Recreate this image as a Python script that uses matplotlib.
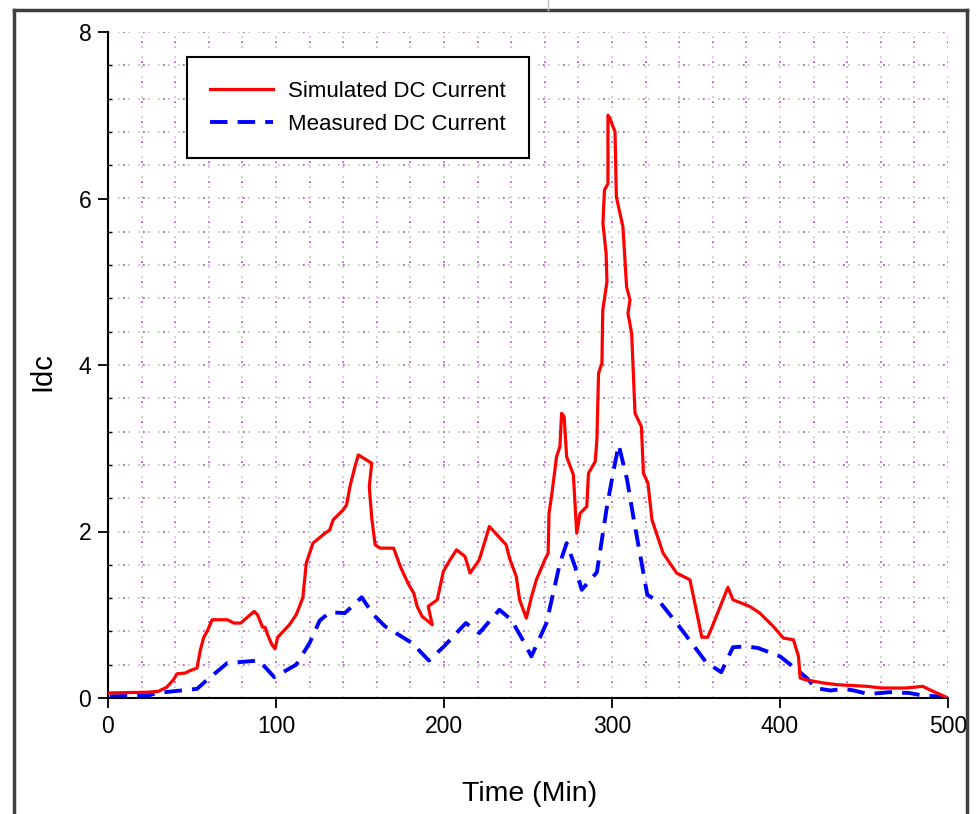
import numpy as np
import matplotlib
matplotlib.use("Agg")
import matplotlib.pyplot as plt
from matplotlib.lines import Line2D

plt.rcParams['font.family'] = ['Liberation Sans', 'DejaVu Sans']

# simulated DC current (red)
sim_t = [0, 24, 30, 35, 39, 41, 46, 49, 53, 55,
         57, 59, 62, 71, 75, 79, 83, 87, 89, 92,
         93.5, 95, 97.6, 99.4, 101, 108, 112, 114, 116, 118,
         122, 128, 132, 134, 140, 142, 144, 147, 149, 157,
         155.5, 157, 159, 162, 170, 174, 179, 182, 184, 187,
         193, 190.6, 196, 199.6, 203.6, 207.5, 212.5, 215.5, 221, 227,
         237, 239, 243, 245, 249, 252, 255, 260, 262, 262.5,
         264, 267, 269, 270, 271.5, 273, 277, 279, 281, 285,
         286, 290, 291, 292, 294, 294.5, 297, 296.5, 294.6, 295.5,
         297.6, 297.6, 298.8, 301.8, 302.6, 306.5, 308.7, 310.7, 309.5, 311.7,
         313.7, 317.5, 318.7, 321.4, 323.8, 330.4, 338.5, 346.4, 353.5, 357,
         359.5, 369, 372, 382, 388, 396, 402, 408, 411, 412,
         415, 426, 434, 452, 460, 475, 485, 489, 499, 500]
sim_i = [0.06, 0.07, 0.08, 0.13, 0.22, 0.29, 0.30, 0.33, 0.36, 0.58,
         0.73, 0.80, 0.94, 0.94, 0.90, 0.90, 0.97, 1.04, 1.00, 0.85,
         0.85, 0.76, 0.64, 0.59, 0.73, 0.88, 1.00, 1.10, 1.21, 1.62,
         1.86, 1.96, 2.02, 2.14, 2.26, 2.32, 2.54, 2.78, 2.92, 2.82,
         2.54, 2.16, 1.84, 1.80, 1.80, 1.58, 1.36, 1.26, 1.10, 0.98,
         0.88, 1.10, 1.18, 1.52, 1.66, 1.78, 1.70, 1.50, 1.66, 2.06,
         1.84, 1.68, 1.46, 1.18, 0.96, 1.21, 1.42, 1.66, 1.74, 2.22,
         2.42, 2.90, 3.02, 3.42, 3.38, 2.90, 2.68, 1.98, 2.22, 2.30,
         2.70, 2.84, 3.10, 3.90, 4.02, 4.66, 5.00, 5.34, 5.70, 6.10,
         6.18, 7.00, 6.96, 6.80, 6.02, 5.66, 4.94, 4.78, 4.62, 4.38,
         3.42, 3.26, 2.70, 2.58, 2.14, 1.74, 1.50, 1.42, 0.73, 0.73,
         0.85, 1.33, 1.18, 1.10, 1.02, 0.86, 0.72, 0.70, 0.50, 0.24,
         0.22, 0.18, 0.16, 0.14, 0.12, 0.12, 0.14, 0.10, 0.01, 0.0]

# measured DC current (blue)
meas_t = [1, 24, 29, 53, 58, 71, 90, 94, 99, 112,
          120, 126, 132, 141, 151, 158, 165, 181, 191, 200,
          213, 221, 233, 240, 246, 252, 261, 269, 273, 278,
          282, 291, 297, 301, 304, 309, 313, 318, 321, 329,
          340, 356, 365, 372, 380, 387, 400, 410, 416, 421,
          430, 438, 444, 452, 460, 465, 477, 485, 493, 499]
meas_i = [0.02, 0.03, 0.06, 0.11, 0.20, 0.42, 0.45, 0.36, 0.25, 0.40,
          0.66, 0.93, 1.03, 1.02, 1.21, 1.00, 0.86, 0.66, 0.45, 0.62,
          0.90, 0.78, 1.06, 0.94, 0.73, 0.50, 0.90, 1.62, 1.86, 1.58,
          1.30, 1.51, 2.30, 2.74, 3.04, 2.62, 2.14, 1.58, 1.24, 1.14,
          0.86, 0.43, 0.31, 0.61, 0.62, 0.60, 0.50, 0.34, 0.24, 0.12,
          0.09, 0.11, 0.09, 0.05, 0.06, 0.07, 0.06, 0.03, 0.02, 0.0]

x_ticks = [0, 100, 200, 300, 400, 500]
y_ticks = [0, 2, 4, 6, 8]

fig = plt.figure(figsize=(9.76, 8.14), dpi=100)
ax = fig.add_axes([108 / 976, 1 - 698 / 814, 840 / 976, 666 / 814])

# dotted grid, grey and purple dots mixed
gx = np.arange(20, 501, 20)
gy = np.arange(0.4, 8.01, 0.4)
for x in gx:
    ax.axvline(x, color='#bdbdbd', lw=1.2, ls=(0, (1, 5)), zorder=0)
    ax.axvline(x, color='#b040c0', lw=1.2, ls=(3, (1, 11)), zorder=0)
for y in gy:
    ax.axhline(y, color='#bdbdbd', lw=1.2, ls=(0, (1, 5)), zorder=0)
    ax.axhline(y, color='#b040c0', lw=1.2, ls=(3, (1, 11)), zorder=0)

ax.plot(sim_t, sim_i, color='#ff0000', lw=2.3, label='Simulated DC Current', zorder=3)
ax.plot(meas_t, meas_i, color='#0000ff', lw=2.8, dashes=(4.5, 2.6),
        label='Measured DC Current', zorder=2)

ax.set_xlim(0, 500)
ax.set_ylim(0, 8)
ax.set_xticks(x_ticks)
ax.set_yticks(y_ticks)
ax.set_yticks(gy, minor=True)
ax.tick_params(axis='both', which='major', direction='out', length=7, width=1.3,
               labelsize=16.5, pad=5)
ax.tick_params(axis='y', which='minor', direction='in', length=3, width=1)
ax.spines['top'].set_visible(False)
ax.spines['right'].set_visible(False)
for s in ['left', 'bottom']:
    ax.spines[s].set_linewidth(1.5)

ax.set_xlabel('Time (Min)', fontsize=20.5)
ax.set_ylabel('Idc', fontsize=21)
ax.xaxis.set_label_coords(0.502, -0.124)
ax.yaxis.set_label_coords(-0.062, 0.49)

leg = ax.legend(loc='upper left', bbox_to_anchor=(0.094, 0.962), fontsize=16,
                frameon=True, fancybox=False, framealpha=1, edgecolor='black',
                handlelength=2.8, handletextpad=0.7,
                borderpad=1.05, labelspacing=0.55, borderaxespad=0)
leg.get_frame().set_linewidth(1.5)

# outer frame of the picture
fig.add_artist(Line2D([14 / 976, 14 / 976], [0, 1 - 10 / 814], color='#404040', lw=2.5))
fig.add_artist(Line2D([14 / 976, 967 / 976], [1 - 10 / 814, 1 - 10 / 814], color='#404040', lw=2.5))
fig.add_artist(Line2D([967 / 976, 967 / 976], [0, 1 - 10 / 814], color='#404040', lw=2.5))
fig.add_artist(Line2D([548 / 976, 548 / 976], [1 - 10 / 814, 1], color='#c0c0c0', lw=1))

fig.savefig('out.png', dpi=100)
